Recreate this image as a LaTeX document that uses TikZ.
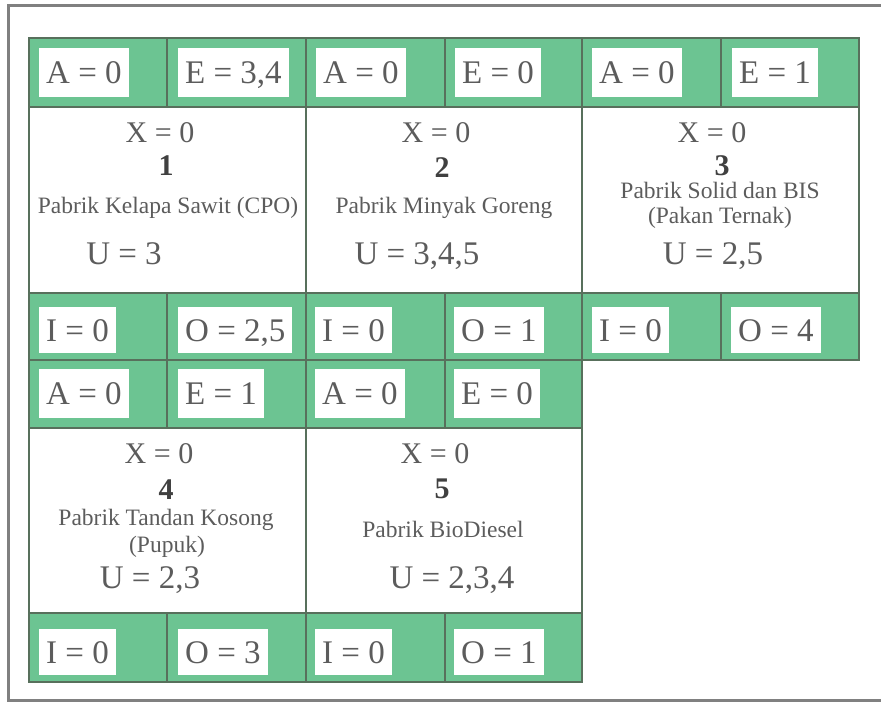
\documentclass[tikz,border=0pt]{standalone}
\usepackage{fontspec}
\setmainfont{Liberation Serif}
\definecolor{bandgreen}{RGB}{108,196,146}
\definecolor{gridline}{RGB}{88,112,92}
\definecolor{txtgray}{RGB}{92,92,92}
\definecolor{framegray}{RGB}{128,128,128}
\tikzset{
  lbl/.style={fill=white, anchor=west, inner xsep=7pt, inner ysep=0pt, text=txtgray,
     text height=22pt, text depth=0pt, font=\fontsize{33}{33}\selectfont},
  hlbl/.style={lbl, minimum height=49pt},
  blbl/.style={lbl, minimum height=46pt},
  xtxt/.style={text=txtgray, inner sep=0pt, text height=20pt, text depth=0pt, font=\fontsize{30}{30}\selectfont},
  numtxt/.style={text=black!75, inner sep=0pt, text height=20pt, text depth=0pt, font=\fontsize{30}{30}\selectfont\bfseries},
  desc/.style={text=txtgray, inner sep=0pt, text height=16pt, text depth=5pt, font=\fontsize{23.5}{23.5}\selectfont},
  utxt/.style={text=txtgray, inner sep=0pt, text height=22pt, text depth=0pt, font=\fontsize{33}{33}\selectfont},
  grid/.style={draw=gridline, line width=2pt},
}
\begin{document}
\begin{tikzpicture}[x=1pt,y=-1pt]
\useasboundingbox (0,0) rectangle (881,702);
\fill[white] (0,0) rectangle (881,702);
% frame
\draw[framegray, line width=3pt] (881,5) -- (8,5) -- (8,700) -- (881,700);
% bands
\fill[bandgreen] (29,38) rectangle (859,107);
\fill[bandgreen] (29,293) rectangle (859,360);
\fill[bandgreen] (29,360) rectangle (582,428);
\fill[bandgreen] (29,613) rectangle (582,682);
% header labels row 1
\node[hlbl] (a1) at (39,72.5) {A = 0};
\node[hlbl] (e1) at (178,72.5) {E = 3,4};
\node[hlbl] (a2) at (316,72.5) {A = 0};
\node[hlbl] (e2) at (455,72.5) {E = 0};
\node[hlbl] (a3) at (592,72.5) {A = 0};
\node[hlbl] (e3) at (732,72.5) {E = 1};
% bottom labels row 1
\node[blbl] (i1) at (39,330) {I = 0};
\node[blbl] (o1) at (178,330) {O = 2,5};
\node[blbl] (i2) at (315,330) {I = 0};
\node[blbl] (o2) at (454,330) {O = 1};
\node[blbl] (i3) at (592,330) {I = 0};
\node[blbl] (o3) at (731,330) {O = 4};
% header labels row 2
\node[hlbl] (a4) at (39,393.5) {A = 0};
\node[hlbl] (e4) at (178,393.5) {E = 1};
\node[hlbl] (a5) at (315,393.5) {A = 0};
\node[hlbl] (e5) at (454,393.5) {E = 0};
% bottom labels row 2
\node[blbl] (i4) at (39,652) {I = 0};
\node[blbl] (o4) at (178,652) {O = 3};
\node[blbl] (i5) at (315,652) {I = 0};
\node[blbl] (o5) at (454,652) {O = 1};
% body texts
\node[xtxt] (x1) at (160,132) {X = 0};
\node[numtxt] (n1) at (166,165) {1};
\node[desc] (d1) at (168,208) {Pabrik Kelapa Sawit (CPO)};
\node[utxt] (u1) at (124,253) {U = 3};
\node[xtxt] (x2) at (436,132) {X = 0};
\node[numtxt] (n2) at (442,167) {2};
\node[desc] (d2) at (444,208) {Pabrik Minyak Goreng};
\node[utxt] (u2) at (417,253) {U = 3,4,5};
\node[xtxt] (x3) at (712,132) {X = 0};
\node[numtxt] (n3) at (722,165) {3};
\node[desc] (d3a) at (720,193) {Pabrik Solid dan BIS};
\node[desc] (d3b) at (720,218) {(Pakan Ternak)};
\node[utxt] (u3) at (713,253) {U = 2,5};
\node[xtxt] (x4) at (159,453) {X = 0};
\node[numtxt] (n4) at (166,489) {4};
\node[desc] (d4a) at (166,520) {Pabrik Tandan Kosong};
\node[desc] (d4b) at (167,547) {(Pupuk)};
\node[utxt] (u4) at (150,577) {U = 2,3};
\node[xtxt] (x5) at (435,453) {X = 0};
\node[numtxt] (n5) at (442,488) {5};
\node[desc] (d5) at (443,532) {Pabrik BioDiesel};
\node[utxt] (u5) at (452,577) {U = 2,3,4};
% grid lines
\draw[grid] (29,38) rectangle (859,360);
\draw[grid] (29,360) rectangle (582,682);
\draw[grid] (29,107) -- (859,107);
\draw[grid] (29,293) -- (859,293);
\draw[grid] (29,428) -- (582,428);
\draw[grid] (29,613) -- (582,613);
\draw[grid] (306,38) -- (306,682);
\draw[grid] (582,38) -- (582,360);
\draw[grid] (167,38) -- (167,107);
\draw[grid] (445,38) -- (445,107);
\draw[grid] (721,38) -- (721,107);
\draw[grid] (167,293) -- (167,428);
\draw[grid] (445,293) -- (445,428);
\draw[grid] (721,293) -- (721,360);
\draw[grid] (167,613) -- (167,682);
\draw[grid] (445,613) -- (445,682);
\end{tikzpicture}
\end{document}
